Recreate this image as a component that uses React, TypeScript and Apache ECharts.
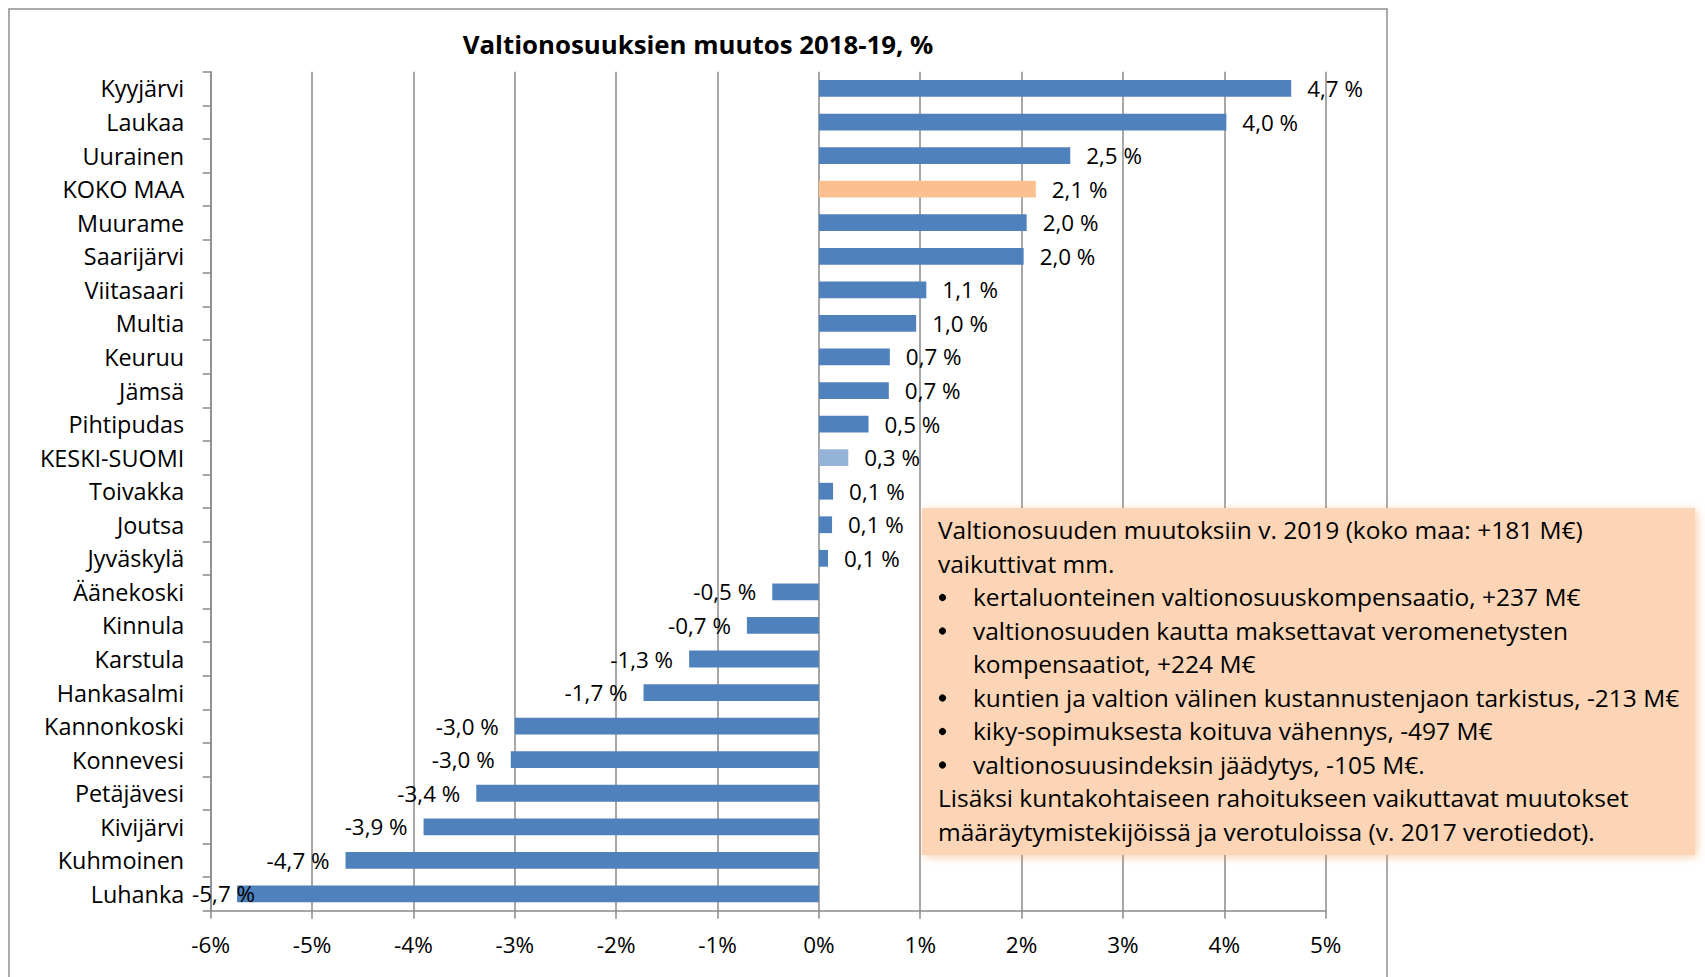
import React, { useEffect, useRef } from "react";
import * as echarts from "echarts";

const categories = [
  "Kyyjärvi", "Laukaa", "Uurainen", "KOKO MAA", "Muurame", "Saarijärvi", "Viitasaari",
  "Multia", "Keuruu", "Jämsä", "Pihtipudas", "KESKI-SUOMI", "Toivakka", "Joutsa",
  "Jyväskylä", "Äänekoski", "Kinnula", "Karstula", "Hankasalmi", "Kannonkoski",
  "Konnevesi", "Petäjävesi", "Kivijärvi", "Kuhmoinen", "Luhanka",
];
const values = [
  4.66, 4.02, 2.48, 2.14, 2.05, 2.02, 1.06, 0.96, 0.7, 0.69, 0.49, 0.29, 0.14, 0.13,
  0.09, -0.46, -0.71, -1.28, -1.73, -3.0, -3.04, -3.38, -3.9, -4.67, -5.74,
];
const xTicks = { min: -6, max: 5, interval: 1 };
const highlightColors: Record<string, string> = {
  "KOKO MAA": "#FAC090",
  "KESKI-SUOMI": "#95B3D7",
};
const titleText = "Valtionosuuksien muutos 2018-19, %";
const noteLines = [
  { text: "Valtionosuuden muutoksiin v. 2019 (koko maa: +181 M€)", kind: "plain" },
  { text: "vaikuttivat mm.", kind: "plain" },
  { text: "kertaluonteinen valtionosuuskompensaatio, +237 M€", kind: "bullet" },
  { text: "valtionosuuden kautta maksettavat veromenetysten", kind: "bullet" },
  { text: "kompensaatiot, +224 M€", kind: "indent" },
  { text: "kuntien ja valtion välinen kustannustenjaon tarkistus, -213 M€", kind: "bullet" },
  { text: "kiky-sopimuksesta koituva vähennys, -497 M€", kind: "bullet" },
  { text: "valtionosuusindeksin jäädytys, -105 M€.", kind: "bullet" },
  { text: "Lisäksi kuntakohtaiseen rahoitukseen vaikuttavat muutokset", kind: "plain" },
  { text: "määräytymistekijöissä ja verotuloissa (v. 2017 verotiedot).", kind: "plain" },
];

const FONT = "Open Sans";
const BAR_BLUE = "#4F81BD";
const GRID_GRAY = "#8a8a8a";

const fmt = (v: number) => v.toFixed(1).replace(".", ",") + " %";

export default function App() {
  const ref = useRef<HTMLDivElement>(null);
  useEffect(() => {
    if (!ref.current) return;
    const chart = echarts.init(ref.current, null, { renderer: "svg" });
    const W = 1705;
    const H = 977;
    const plot = { left: 210.7, right: 1325.7, top: 71.7, bottom: 910.7 };

    const noteGraphics: any[] = [];
    noteLines.forEach((ln, i) => {
      const y = 529.5 + i * 33.5;
      if (ln.kind === "bullet") {
        noteGraphics.push({
          type: "circle",
          z: 101,
          silent: true,
          shape: { cx: 942.5, cy: y + 1, r: 3.6 },
          style: { fill: "#000" },
        });
      }
      noteGraphics.push({
        type: "text",
        x: ln.kind === "plain" ? 938 : 973,
        y,
        z: 101,
        style: { text: ln.text, fontFamily: FONT, fontSize: 24.5, fill: "#000", align: "left", verticalAlign: "middle" },
      });
    });

    const option: any = {
      animation: false,
      textStyle: { fontFamily: FONT },
      grid: { left: plot.left, right: W - plot.right, top: plot.top, bottom: H - plot.bottom, containLabel: false },
      xAxis: {
        type: "value",
        min: xTicks.min,
        max: xTicks.max,
        interval: xTicks.interval,
        axisLabel: { formatter: (v: number) => `${v}%`, fontSize: 22.5, color: "#000", margin: 22, fontFamily: FONT },
        splitLine: { show: true, lineStyle: { color: GRID_GRAY, width: 1.5 } },
        axisLine: { show: true, onZero: false, lineStyle: { color: GRID_GRAY, width: 1.5 } },
        axisTick: { show: true, length: 8, lineStyle: { color: GRID_GRAY, width: 1.5 } },
      },
      yAxis: [
        {
          type: "category",
          data: categories,
          inverse: true,
          position: "left",
          axisLine: { show: false },
          axisTick: { show: false },
          splitLine: { show: false },
          axisLabel: { fontSize: 23.4, color: "#000", margin: 26.5, fontFamily: FONT },
        },
        {
          type: "category",
          data: categories,
          inverse: true,
          position: "left",
          axisLine: { show: true, onZero: true, lineStyle: { color: GRID_GRAY, width: 1.5 } },
          axisTick: { show: true, length: 8, lineStyle: { color: GRID_GRAY, width: 1.5 } },
          axisLabel: { show: false },
          splitLine: { show: false },
        },
      ],
      series: [
        {
          type: "bar",
          yAxisIndex: 0,
          barWidth: "50%",
          data: values.map((v, i) => {
            const name = categories[i];
            const item: any = {
              value: v,
              itemStyle: { color: highlightColors[name] || BAR_BLUE },
              label: { position: v < 0 ? "left" : "right" },
            };
            if (name === "Luhanka") item.label.offset = [34, 0];
            return item;
          }),
          label: {
            show: true,
            distance: 16,
            formatter: (p: any) => fmt(p.value),
            fontSize: 22.4,
            color: "#000",
            fontFamily: FONT,
          },
        },
      ],
      graphic: [
        {
          type: "rect",
          z: -10,
          silent: true,
          shape: { x: 9, y: 9, width: 1378, height: 1000 },
          style: { fill: "none", stroke: "#8f8f8f", lineWidth: 1.5 },
        },
        {
          type: "text",
          x: 698,
          y: 44,
          style: {
            text: titleText,
            fontFamily: FONT,
            fontWeight: "bold",
            fontSize: 25.8,
            fill: "#000",
            align: "center",
            verticalAlign: "middle",
          },
        },
        {
          type: "rect",
          z: 100,
          shape: { x: 922, y: 508, width: 773, height: 347 },
          style: {
            fill: "#FBD5B5",
            shadowBlur: 10,
            shadowColor: "rgba(240,150,80,0.45)",
            shadowOffsetX: 2,
            shadowOffsetY: 2,
          },
        },
        ...noteGraphics,
      ],
    };
    chart.setOption(option);
    return () => chart.dispose();
  }, []);
  return (
    <div
      ref={ref}
      style={{ position: "fixed", left: 0, top: 0, width: 1705, height: 977, background: "#fff" }}
    />
  );
}
